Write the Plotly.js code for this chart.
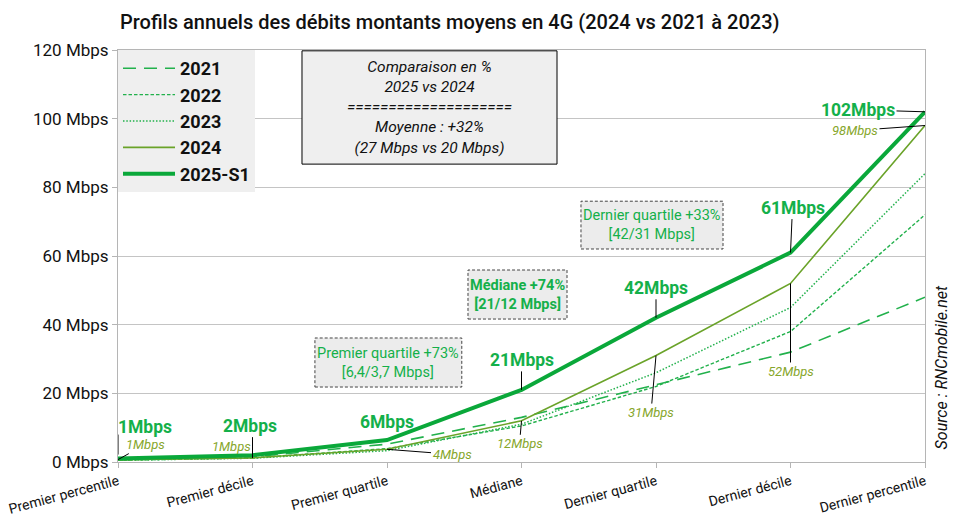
<!DOCTYPE html>
<html><head><meta charset="utf-8">
<script src="https://cdn.plot.ly/plotly-3.0.1.min.js"></script>
<style>html,body{margin:0;padding:0;background:#fff;}#chart{width:956px;height:523px;}</style>
</head><body><div id="chart"></div>
<script>
const categories = ['Premier percentile','Premier décile','Premier quartile','Médiane','Dernier quartile','Dernier décile','Dernier percentile'];
const seriesNames = ['2021','2022','2023','2024','2025-S1'];
const v2021 = [0.6, 1.5, 5.2, 13, 22.5, 32, 48];
const v2022 = [0.5, 1.2, 3.9, 10.5, 22, 38, 72];
const v2023 = [0.5, 1.1, 3.3, 11, 26, 45, 84];
const v2024 = [0.7, 1.2, 3.7, 12, 31, 52, 98];
const v2025 = [1, 2, 6.4, 21, 42, 61, 102];
const labels2025 = ['1Mbps','2Mbps','6Mbps','21Mbps','42Mbps','61Mbps','102Mbps'];
const labels2024 = ['1Mbps','1Mbps','4Mbps','12Mbps','31Mbps','52Mbps','98Mbps'];
const yTicks = [0,20,40,60,80,100,120];
const yTickText = yTicks.map(v => v + ' Mbps');

const GREEN = '#22b14c', G25 = '#0aa83a', OLIVE = '#6aa329';
const GTXT = '#14b04a', OTXT = '#86a62b';

const traces = [
  {x:categories, y:v2021, name:seriesNames[0], mode:'lines', line:{color:GREEN, width:1.6, dash:'13px,8px'}},
  {x:categories, y:v2022, name:seriesNames[1], mode:'lines', line:{color:GREEN, width:1.4, dash:'3.5px,2px'}},
  {x:categories, y:v2023, name:seriesNames[2], mode:'lines', line:{color:GREEN, width:1.5, dash:'1.5px,1.8px'}},
  {x:categories, y:v2024, name:seriesNames[3], mode:'lines', line:{color:OLIVE, width:1.6}},
  {x:categories, y:v2025, name:seriesNames[4], mode:'lines', line:{color:G25, width:4}}
];

const gFont = {family:'Roboto', size:17.5, color:GTXT, weight:700};
const oFont = {family:'Roboto', size:13, color:OTXT, style:'italic'};
const arrowBase = {showarrow:true, arrowhead:0, arrowwidth:1, arrowcolor:'#000'};
const mid = {xanchor:'center', yanchor:'middle'};

const annotations = [
  {x:categories[0], y:v2025[0], text:labels2025[0], font:gFont, showarrow:false, xanchor:'left', yanchor:'middle', yshift:32, xshift:-2},
  Object.assign({x:categories[1], y:v2025[1], text:labels2025[1], font:gFont, showarrow:false, yshift:29, xshift:-3}, mid),
  Object.assign({x:categories[2], y:v2025[2], text:labels2025[2], font:gFont, showarrow:false, yshift:18}, mid),
  Object.assign({x:categories[3], y:v2025[3], text:labels2025[3], font:gFont, ax:0, ay:-30}, arrowBase),
  Object.assign({x:categories[4], y:v2025[4], text:labels2025[4], font:gFont, ax:0, ay:-30}, arrowBase),
  Object.assign({x:categories[5], y:v2025[5], text:labels2025[5], font:gFont, ax:2, ay:-45}, arrowBase),
  Object.assign({x:categories[6], y:v2025[6], text:labels2025[6], font:gFont, ax:-67, ay:-2}, arrowBase),
  Object.assign({x:categories[0], y:v2024[0], text:labels2024[0], font:oFont, ax:27, ay:-15}, arrowBase),
  Object.assign({x:categories[1], y:v2024[1], text:labels2024[1], font:oFont, showarrow:false, xshift:-21, yshift:11}, mid),
  Object.assign({x:categories[2], y:v2024[2], text:labels2024[2], font:oFont, ax:65, ay:5}, arrowBase),
  Object.assign({x:categories[3], y:v2024[3], text:labels2024[3], font:oFont, ax:-2, ay:23}, arrowBase),
  Object.assign({x:categories[4], y:v2024[4], text:labels2024[4], font:oFont, ax:-5, ay:57}, arrowBase),
  Object.assign({x:categories[5], y:v2024[5], text:labels2024[5], font:oFont, ax:0, ay:88}, arrowBase),
  Object.assign({x:categories[6], y:v2024[6], text:labels2024[6], font:oFont, ax:-70, ay:5}, arrowBase),
  Object.assign({xref:'paper', yref:'paper', x:(0.228+0.544)/2, y:(0.723+0.998)/2, showarrow:false,
   text:'Comparaison en %<br>2025 vs 2024<br>====================<br>Moyenne : +32%<br>(27 Mbps vs 20 Mbps)',
   font:{family:'Roboto', size:15.5, color:'#111', style:'italic'}}, mid),
  Object.assign({xref:'paper', yref:'paper', x:(0.244+0.426)/2, y:(0.182+0.301)/2, showarrow:false,
   text:'Premier quartile +73%<br>[6,4/3,7 Mbps]', font:{family:'Roboto', size:14.5, color:GTXT}}, mid),
  Object.assign({xref:'paper', yref:'paper', x:(0.4337+0.5564)/2, y:(0.347+0.466)/2, showarrow:false,
   text:'Médiane +74%<br>[21/12 Mbps]', font:{family:'Roboto', size:14.5, color:GTXT, weight:700}}, mid),
  Object.assign({xref:'paper', yref:'paper', x:(0.5737+0.7497)/2, y:(0.517+0.633)/2, showarrow:false,
   text:'Dernier quartile +33%<br>[42/31 Mbps]', font:{family:'Roboto', size:14.5, color:GTXT}}, mid),
  Object.assign({xref:'paper', yref:'paper', x:1.02, y:0.23, showarrow:false, textangle:-90,
   text:'Source : RNCmobile.net', font:{family:'Roboto', size:16, color:'#111', style:'italic'}}, mid)
];

const shapes = [
  {type:'rect', xref:'paper', yref:'paper', x0:0.228, x1:0.544, y0:0.723, y1:0.998, fillcolor:'#efefef', line:{color:'#000', width:1}, layer:'above'},
  {type:'rect', xref:'paper', yref:'paper', x0:0.244, x1:0.426, y0:0.182, y1:0.301, fillcolor:'#ececec', line:{color:'#444', width:1, dash:'3px,2px'}, layer:'above'},
  {type:'rect', xref:'paper', yref:'paper', x0:0.4337, x1:0.5564, y0:0.347, y1:0.466, fillcolor:'#ececec', line:{color:'#444', width:1, dash:'3px,2px'}, layer:'above'},
  {type:'rect', xref:'paper', yref:'paper', x0:0.5737, x1:0.7497, y0:0.517, y1:0.633, fillcolor:'#ececec', line:{color:'#444', width:1, dash:'3px,2px'}, layer:'above'},
  {type:'line', xref:'x', yref:'y', x0:categories[0], x1:categories[0], ysizemode:'pixel', yanchor:v2025[0], y0:4, y1:24, line:{color:'#000', width:1}},
  {type:'line', xref:'x', yref:'y', x0:categories[1], x1:categories[1], ysizemode:'pixel', yanchor:v2025[1], y0:-3, y1:18, line:{color:'#000', width:1}}
];

const layout = {
  width:956, height:523,
  margin:{l:118, r:31, t:50, b:61},
  paper_bgcolor:'#fff', plot_bgcolor:'#fff',
  font:{family:'Roboto', color:'#111'},
  title:{text:'Profils annuels des débits montants moyens en 4G (2024 vs 2021 à 2023)',
         x:120/956, xanchor:'left', xref:'container', y:1-22/523, yanchor:'middle', yref:'container',
         font:{family:'Roboto', size:20, color:'#111', weight:500}},
  showlegend:true,
  legend:{x:0, y:1, xanchor:'left', yanchor:'top', bgcolor:'#efefef', borderwidth:0,
          font:{family:'Roboto', size:18, color:'#111', weight:700}, itemwidth:52, tracegroupgap:0},
  xaxis:{type:'category', categoryorder:'array', categoryarray:categories, range:[0,6],
         showgrid:false, showline:true, linecolor:'#b5b5b5', mirror:true,
         ticks:'outside', ticklen:5, tickcolor:'#b5b5b5', tickangle:-15,
         tickfont:{family:'Roboto', size:14, color:'#111'}, zeroline:false, automargin:false},
  yaxis:{range:[0,120], tickvals:yTicks, ticktext:yTickText, showgrid:true, gridcolor:'#c4c4c4',
         showline:true, linecolor:'#b5b5b5', mirror:true, ticks:'outside', ticklen:5, tickcolor:'#b5b5b5',
         tickfont:{family:'Roboto', size:17, color:'#111'}, zeroline:false, automargin:false},
  annotations:annotations, shapes:shapes
};

Plotly.newPlot('chart', traces, layout, {displayModeBar:false, staticPlot:true});
</script></body></html>
